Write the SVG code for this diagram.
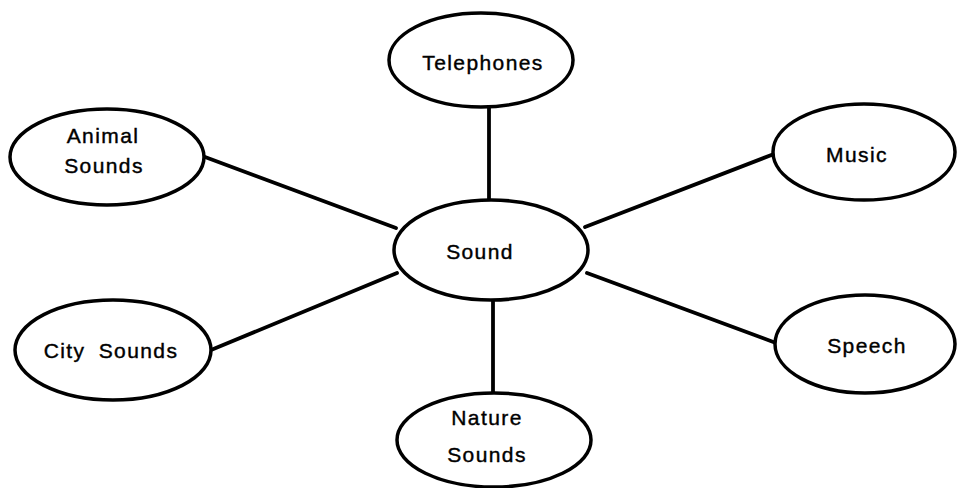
<svg xmlns="http://www.w3.org/2000/svg" width="957" height="488" viewBox="0 0 957 488">
<style>
.n ellipse{fill:#fff;stroke:#000;stroke-width:3.5}
.n text{font-family:"Liberation Sans",Arial,sans-serif;font-size:21px;letter-spacing:1.4px;fill:#000;stroke:#000;stroke-width:0.4;text-anchor:middle}
.c line{stroke:#000;stroke-width:3.8;stroke-linecap:round}
</style>
<rect width="957" height="488" fill="#fff"/>
<g id="connectors" class="c">
<line x1="489" y1="107" x2="489" y2="200"/>
<line x1="205" y1="157" x2="396" y2="228"/>
<line x1="585" y1="227" x2="774" y2="154"/>
<line x1="211" y1="350" x2="397" y2="273"/>
<line x1="587" y1="273" x2="776" y2="343"/>
<line x1="493" y1="300" x2="493" y2="393"/>
</g>
<g id="telephones" class="n"><ellipse cx="481" cy="60" rx="92" ry="47"/><text x="483" y="70">Telephones</text></g>
<g id="animal" class="n"><ellipse cx="107" cy="157" rx="97" ry="48"/><text x="103" y="143">Animal</text><text x="104" y="173">Sounds</text></g>
<g id="sound" class="n"><ellipse cx="491" cy="250" rx="97" ry="50"/><text x="480" y="259">Sound</text></g>
<g id="music" class="n"><ellipse cx="864" cy="152" rx="91" ry="48"/><text x="857" y="162">Music</text></g>
<g id="city" class="n"><ellipse cx="113" cy="350" rx="98" ry="50"/><text x="111" y="358" word-spacing="6">City Sounds</text></g>
<g id="speech" class="n"><ellipse cx="865" cy="344" rx="90" ry="49"/><text x="867" y="353">Speech</text></g>
<g id="nature" class="n"><ellipse cx="494" cy="440" rx="97" ry="47"/><text x="487" y="425">Nature</text><text x="487" y="462">Sounds</text></g>
</svg>
